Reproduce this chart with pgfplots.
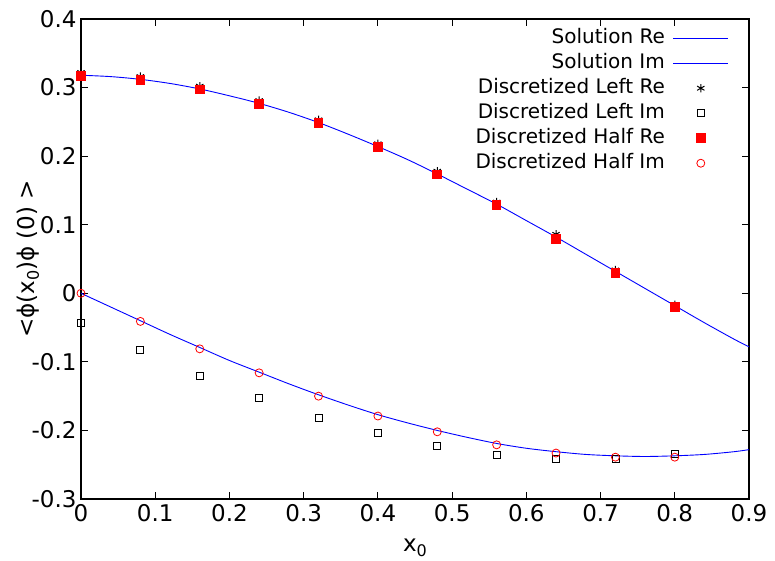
\documentclass[border=0pt]{standalone}
\usepackage{fontspec}
\setmainfont{DejaVu Sans}
\usepackage{pgfplots}
\pgfplotsset{compat=1.18}
\newcommand\sub[1]{\raisebox{-0.35ex}{\fontsize{16}{16}\selectfont #1}}
\begin{document}
\begin{tikzpicture}
\path[use as bounding box] (-81pt,-61pt) rectangle (694pt,499pt);
\begin{axis}[
    scale only axis,
    width=668pt, height=480pt,
    xmin=0, xmax=0.9, ymin=-0.3, ymax=0.4,
    xtick={0,0.1,...,0.9}, ytick={-0.3,-0.2,...,0.4},
    xticklabels={0,0.1,0.2,0.3,0.4,0.5,0.6,0.7,0.8,0.9},
    yticklabels={-0.3,-0.2,-0.1,0,0.1,0.2,0.3,0.4},
    tick align=inside, major tick length=7pt,
    tick style={black, line width=1pt},
    axis line style={line width=1.2pt},
    ticklabel style={font=\fontsize{23}{26}\selectfont},
    xticklabel style={yshift=-2pt},
    yticklabel style={xshift=-1pt},
    label style={font=\fontsize{23}{26}\selectfont},
    xlabel={x\sub{0}},
    xlabel style={at={(axis description cs:0.5,-0.102)}, anchor=center},
    ylabel={<ϕ(x\sub{0})ϕ (0) >},
    ylabel style={at={(axis description cs:-0.079,0.5)}, anchor=center},
    legend cell align=right,
    legend plot pos=right,
    legend style={draw=none, fill=none, at={(axis cs:0.873,0.3905)}, anchor=north east,
        font=\fontsize{20}{22}\selectfont, row sep=0pt, column sep=6pt, inner sep=0pt,
        nodes={text height=16pt, text depth=5pt, inner sep=2pt}},
    legend image code/.code={\draw[mark repeat=2,mark phase=2,#1] plot coordinates {(0pt,0pt) (27.5pt,0pt) (55pt,0pt)};},
]
\addplot[blue, line width=0.9pt, smooth] coordinates {
(0,0.318) (0.04,0.316) (0.08,0.312) (0.12,0.306) (0.16,0.298) (0.20,0.288) (0.24,0.277)
(0.28,0.264) (0.32,0.249) (0.36,0.232) (0.40,0.214) (0.44,0.195) (0.48,0.174)
(0.52,0.152) (0.56,0.130) (0.60,0.106) (0.64,0.082) (0.68,0.057) (0.72,0.032)
(0.76,0.007) (0.80,-0.018) (0.84,-0.043) (0.88,-0.067) (0.9,-0.078)};
\addlegendentry{Solution Re}
\addplot[blue, line width=0.9pt, smooth] coordinates {
(0,0) (0.04,-0.020) (0.08,-0.040) (0.12,-0.060) (0.16,-0.079) (0.20,-0.098) (0.24,-0.115)
(0.28,-0.132) (0.32,-0.148) (0.36,-0.163) (0.40,-0.177) (0.44,-0.189) (0.48,-0.200)
(0.52,-0.210) (0.56,-0.219) (0.60,-0.226) (0.64,-0.231) (0.68,-0.235) (0.72,-0.237)
(0.76,-0.238) (0.80,-0.237) (0.84,-0.235) (0.88,-0.231) (0.9,-0.228)};
\addlegendentry{Solution Im}
\addplot[only marks, black, mark=asterisk, mark size=4.2pt, line width=1pt] coordinates {
(0,0.322) (0.08,0.316) (0.16,0.302) (0.24,0.281) (0.32,0.253) (0.40,0.218)
(0.48,0.178) (0.56,0.133) (0.64,0.086) (0.72,0.034) (0.80,-0.017)};
\addlegendentry{Discretized Left Re}
\addplot[only marks, black, mark=square, mark size=3.5pt, line width=0.8pt] coordinates {
(0,-0.043) (0.08,-0.083) (0.16,-0.120) (0.24,-0.153) (0.32,-0.181) (0.40,-0.204)
(0.48,-0.223) (0.56,-0.235) (0.64,-0.241) (0.72,-0.242) (0.80,-0.234)};
\addlegendentry{Discretized Left Im}
\addplot[only marks, red, mark=square*, mark size=4.3pt, line width=0pt] coordinates {
(0,0.317) (0.08,0.311) (0.16,0.297) (0.24,0.276) (0.32,0.248) (0.40,0.213)
(0.48,0.173) (0.56,0.129) (0.64,0.079) (0.72,0.030) (0.80,-0.020)};
\addlegendentry{Discretized Half Re}
\addplot[only marks, red, mark=o, mark size=4pt, line width=0.8pt] coordinates {
(0,0) (0.08,-0.041) (0.16,-0.081) (0.24,-0.116) (0.32,-0.150) (0.40,-0.179)
(0.48,-0.202) (0.56,-0.221) (0.64,-0.233) (0.72,-0.239) (0.80,-0.239)};
\addlegendentry{Discretized Half Im}
\end{axis}
\end{tikzpicture}
\end{document}
